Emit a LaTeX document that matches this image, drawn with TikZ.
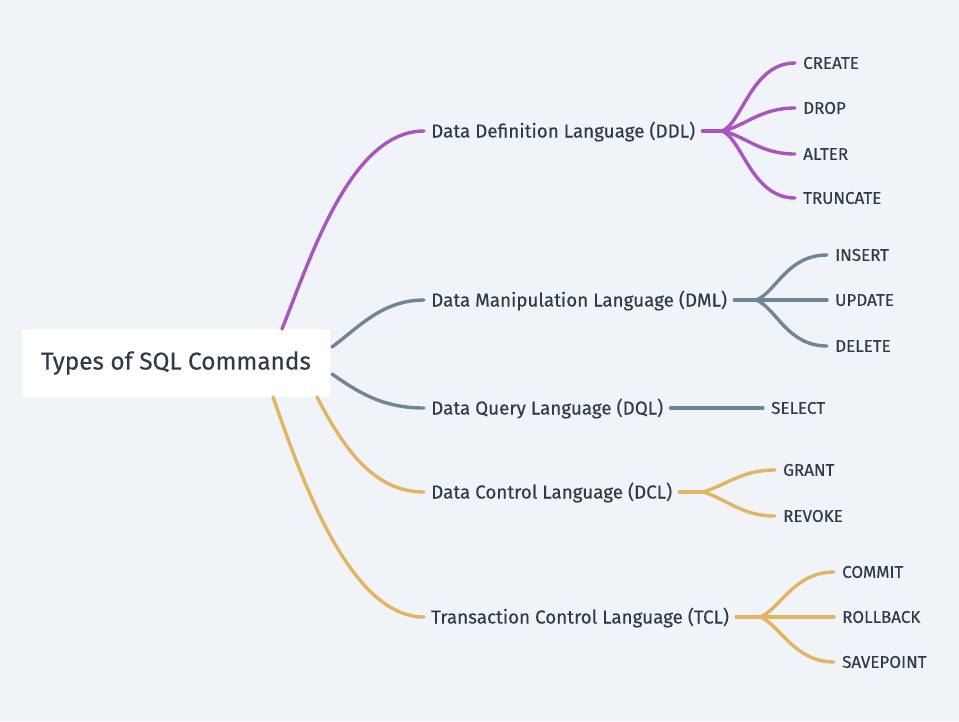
\documentclass[tikz,border=0pt]{standalone}
\usepackage{fontspec}
\setmainfont{Fira Sans}
\newfontfamily\mfont{Fira Sans}[FakeBold=0.35]
\definecolor{bg}{HTML}{F0F3F7}
\definecolor{ink}{HTML}{2F3B4B}
\definecolor{cpurple}{HTML}{A855C1}
\definecolor{cgray}{HTML}{6E8696}
\definecolor{cyellow}{HTML}{E2B464}
\begin{document}
\begin{tikzpicture}[x=1pt,y=-1pt,
  rootbox/.style={fill=white,rounded corners=4pt,minimum width=308pt,minimum height=68pt,inner sep=0pt,text=ink,font=\mfont\fontsize{24.4}{28}\selectfont},
  branch/.style={anchor=west,inner xsep=7pt,inner ysep=0pt,text height=13pt,text depth=0pt,text=ink,font=\mfont\fontsize{18.8}{22}\selectfont},
  leaf/.style={anchor=west,inner xsep=8pt,inner ysep=0pt,text height=11.7pt,text depth=0pt,text=ink,font=\mfont\fontsize{17}{20}\selectfont},
  link/.style={line width=3.4pt,line cap=round},
  pur/.style={link,draw=cpurple},
  gry/.style={link,draw=cgray},
  yel/.style={link,draw=cyellow}]
\fill[bg] (0,0) rectangle (959,721);
\useasboundingbox (0,0) rectangle (959,721);

\node[rootbox] (root) at (176,363) {Types of SQL Commands};

\node[branch] (ddl) at (424,131) {Data Definition Language (DDL)};
\node[branch] (dml) at (424,300) {Data Manipulation Language (DML)};
\node[branch] (dql) at (424,408) {Data Query Language (DQL)};
\node[branch] (dcl) at (424,492) {Data Control Language (DCL)};
\node[branch] (tcl) at (424,617) {Transaction Control Language (TCL)};

\node[leaf] (create) at (795,63) {CREATE};
\node[leaf] (drop) at (795,108) {DROP};
\node[leaf] (alter) at (795,154) {ALTER};
\node[leaf] (truncate) at (795,198) {TRUNCATE};
\node[leaf] (insert) at (827,255) {INSERT};
\node[leaf] (update) at (827,300) {UPDATE};
\node[leaf] (delete) at (827,346) {DELETE};
\node[leaf] (select) at (763,408) {SELECT};
\node[leaf] (grant) at (775,470) {GRANT};
\node[leaf] (revoke) at (775,516) {REVOKE};
\node[leaf] (commit) at (834,572) {COMMIT};
\node[leaf] (rollback) at (834,617) {ROLLBACK};
\node[leaf] (savepoint) at (834,662) {SAVEPOINT};

\coordinate (r1) at (282,329);
\coordinate (r2) at (332,347);
\coordinate (r3) at (332,374);
\coordinate (r4) at (317,397);
\coordinate (r5) at (273,397);

\draw[pur] (r1) .. controls (310,260) and (350,131) .. (ddl.west);
\draw[gry] (r2) .. controls (358,328) and (382,300) .. (dml.west);
\draw[gry] (r3) .. controls (358,392) and (382,408) .. (dql.west);
\draw[yel] (r4) .. controls (342,445) and (372,492) .. (dcl.west);
\draw[yel] (r5) .. controls (302,480) and (350,617) .. (tcl.west);

% DDL fork
\coordinate (fddl) at ([xshift=20pt]ddl.east);
\draw[pur] (ddl.east) -- (fddl);
\draw[pur] (fddl) .. controls +(20,-9) and +(-43,0) .. (create.west);
\draw[pur] (fddl) .. controls +(23,-5) and +(-35,0) .. (drop.west);
\draw[pur] (fddl) .. controls +(23,5) and +(-35,0) .. (alter.west);
\draw[pur] (fddl) .. controls +(20,9) and +(-43,0) .. (truncate.west);

% DML fork
\coordinate (fdml) at ([xshift=22pt]dml.east);
\draw[gry] (dml.east) -- (fdml);
\draw[gry] (fdml) .. controls +(20,-8) and +(-40,0) .. (insert.west);
\draw[gry] (fdml) -- (update.west);
\draw[gry] (fdml) .. controls +(20,8) and +(-40,0) .. (delete.west);

% DQL
\draw[gry] (dql.east) -- (select.west);

% DCL fork
\coordinate (fdcl) at ([xshift=24pt]dcl.east);
\draw[yel] (dcl.east) -- (fdcl);
\draw[yel] (fdcl) .. controls +(25,-8) and +(-33,0) .. (grant.west);
\draw[yel] (fdcl) .. controls +(25,8) and +(-33,0) .. (revoke.west);

% TCL fork
\coordinate (ftcl) at ([xshift=24pt]tcl.east);
\draw[yel] (tcl.east) -- (ftcl);
\draw[yel] (ftcl) .. controls +(20,-8) and +(-40,0) .. (commit.west);
\draw[yel] (ftcl) -- (rollback.west);
\draw[yel] (ftcl) .. controls +(20,8) and +(-40,0) .. (savepoint.west);
\end{tikzpicture}
\end{document}
